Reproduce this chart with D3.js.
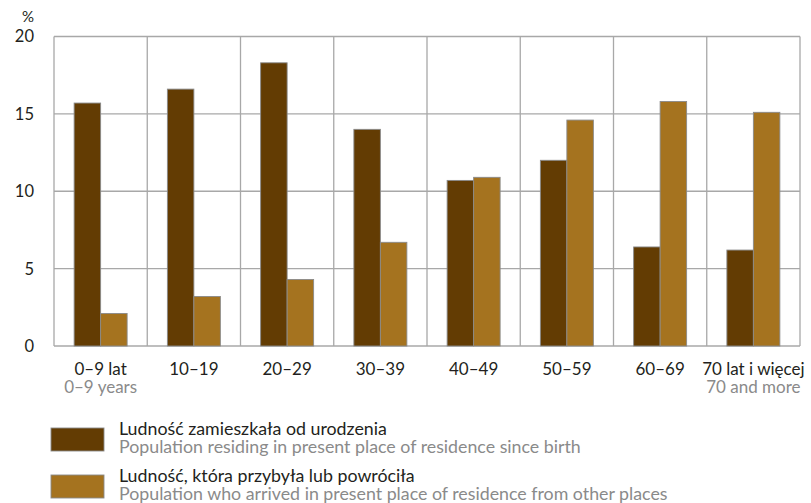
<!DOCTYPE html>
<html>
<head>
<meta charset="utf-8">
<script src="https://cdn.jsdelivr.net/npm/d3@7"></script>
<style>
  html, body { margin: 0; padding: 0; background: #fff; }
  svg text { font-family: Lato, "Liberation Sans", sans-serif; }
</style>
</head>
<body>
<svg id="chart" width="811" height="503"></svg>
<script>
// Age groups (Polish / English)
const categoriesPl = ["0–9 lat", "10–19", "20–29", "30–39", "40–49", "50–59", "60–69", "70 lat i więcej"];
const categoriesEn = ["0–9 years", "", "", "", "", "", "", "70 and more"];

// Share of population by age group, %
const sinceBirth = [15.7, 16.6, 18.3, 14.0, 10.7, 12.0, 6.4, 6.2];
const arrived    = [2.1, 3.2, 4.3, 6.7, 10.9, 14.6, 15.8, 15.1];

const yTicks = [0, 5, 10, 15, 20];

const seriesNames = [
  { pl: "Ludność zamieszkała od urodzenia", en: "Population residing in present place of residence since birth" },
  { pl: "Ludność, która przybyła lub powróciła", en: "Population who arrived in present place of residence from other places" }
];
const seriesColors = ["#633c03", "#a5731f"];

const svg = d3.select("#chart");
const plot = { left: 54, right: 800, top: 36.5, bottom: 346 };

const x = d3.scaleBand()
  .domain(categoriesPl.map((d, i) => i))
  .range([plot.left, plot.right])
  .paddingInner(0).paddingOuter(0);

const xs = d3.scaleBand()
  .domain([0, 1])
  .range([0, x.bandwidth()])
  .paddingInner(0).paddingOuter(0.76);

const y = d3.scaleLinear().domain([0, 20]).range([plot.bottom, plot.top]);

const gridColor = "#a8a8a8";

// horizontal gridlines
svg.append("g").selectAll("line").data(yTicks).join("line")
  .attr("x1", plot.left).attr("x2", plot.right)
  .attr("y1", d => y(d)).attr("y2", d => y(d))
  .attr("stroke", gridColor).attr("stroke-width", 1.3);

// vertical category separators
const bounds = d3.range(categoriesPl.length + 1).map(i => i < categoriesPl.length ? x(i) : plot.right);
svg.append("g").selectAll("line").data(bounds).join("line")
  .attr("x1", d => d).attr("x2", d => d)
  .attr("y1", plot.top).attr("y2", plot.bottom)
  .attr("stroke", gridColor).attr("stroke-width", 1.3);

// y tick labels
svg.append("g").selectAll("text").data(yTicks).join("text")
  .attr("x", 34).attr("y", d => y(d))
  .attr("dy", "0.36em")
  .attr("text-anchor", "end")
  .attr("font-size", 16.5)
  .attr("fill", "#231f20")
  .text(d => d);

svg.append("text")
  .attr("x", 28).attr("y", 22)
  .attr("text-anchor", "middle")
  .attr("font-size", 15)
  .attr("fill", "#231f20")
  .text("%");

// bars
const series = [sinceBirth, arrived];
series.forEach((vals, s) => {
  svg.append("g").selectAll("rect").data(vals).join("rect")
    .attr("x", (d, i) => x(i) + xs(s))
    .attr("width", xs.bandwidth())
    .attr("y", d => y(d))
    .attr("height", d => y(0) - y(d))
    .attr("fill", seriesColors[s])
    .attr("stroke", "#8a8a8a")
    .attr("stroke-width", 0.9);
});

// category labels
const cx = i => x(i) + x.bandwidth() / 2;
svg.append("g").selectAll("text").data(categoriesPl).join("text")
  .attr("x", (d, i) => cx(i)).attr("y", 375)
  .attr("text-anchor", "middle")
  .attr("font-size", 17)
  .attr("fill", "#231f20")
  .text(d => d);
svg.append("g").selectAll("text").data(categoriesEn).join("text")
  .attr("x", (d, i) => cx(i)).attr("y", 393)
  .attr("text-anchor", "middle")
  .attr("font-size", 17)
  .attr("fill", "#8a8a8a")
  .text(d => d);

// legend
const legendRows = [428, 475];
seriesNames.forEach((s, i) => {
  const g = svg.append("g").attr("transform", `translate(0,${legendRows[i]})`);
  g.append("rect")
    .attr("x", 51).attr("y", 0).attr("width", 53).attr("height", 23)
    .attr("fill", seriesColors[i])
    .attr("stroke", "#8a8a8a").attr("stroke-width", 0.9);
  g.append("text").attr("x", 119).attr("y", 7)
    .attr("font-size", 17.8).attr("fill", "#231f20").text(s.pl);
  g.append("text").attr("x", 119).attr("y", 25)
    .attr("font-size", 17.8).attr("fill", "#8a8a8a").text(s.en);
});
</script>
</body>
</html>
